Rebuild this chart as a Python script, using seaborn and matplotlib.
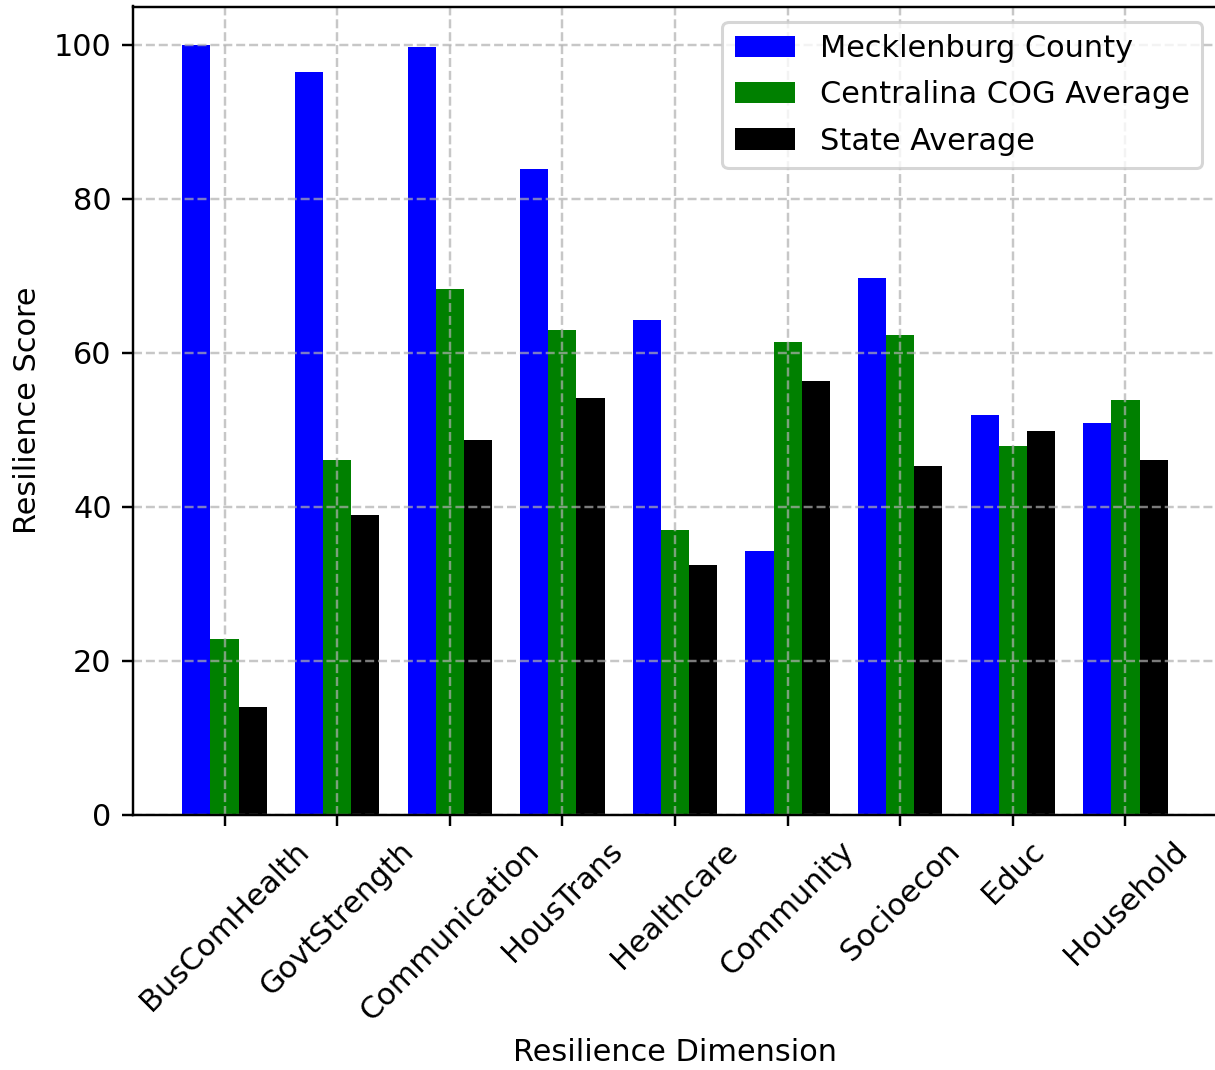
import numpy as np
import pandas as pd
import matplotlib
matplotlib.use("Agg")
import matplotlib.pyplot as plt
import seaborn as sns

# Resilience dimensions and scores
dimensions = ["BusComHealth", "GovtStrength", "Communication", "HousTrans",
              "Healthcare", "Community", "Socioecon", "Educ", "Household"]
mecklenburg = [100.0, 96.5, 99.8, 83.9, 64.3, 34.3, 69.7, 51.9, 50.9]
centralina = [22.9, 46.1, 68.3, 63.0, 37.0, 61.4, 62.3, 47.9, 53.9]
state_avg = [14.0, 39.0, 48.7, 54.2, 32.5, 56.4, 45.3, 49.9, 46.1]
series_names = ["Mecklenburg County", "Centralina COG Average", "State Average"]
series_colors = ["blue", "green", "black"]

df = pd.DataFrame({
    "Dimension": dimensions * 3,
    "Group": np.repeat(series_names, len(dimensions)),
    "Score": mecklenburg + centralina + state_avg,
})

DPI = 219
W, H = 1215.0, 1070.0
fig = plt.figure(figsize=(W / DPI, H / DPI), dpi=DPI)
ax = fig.add_axes([133 / W, (H - 815) / H, (1217 - 133) / W, (815 - 6.5) / H])

sns.barplot(data=df, x="Dimension", y="Score", hue="Group",
            hue_order=series_names, palette=series_colors,
            saturation=1, width=0.75, order=dimensions, ax=ax)

ax.set_xlim(-0.8125, len(dimensions) - 1 + 0.8125)
ax.set_ylim(0, 105)
ax.set_xlabel("Resilience Dimension")
ax.set_ylabel("Resilience Score")
ax.tick_params(axis="x", labelrotation=45)
ax.grid(True, linestyle="--", alpha=0.7)
sns.move_legend(ax, "upper right", title=None, labelspacing=0.57)

fig.savefig("out.png", dpi=DPI)
